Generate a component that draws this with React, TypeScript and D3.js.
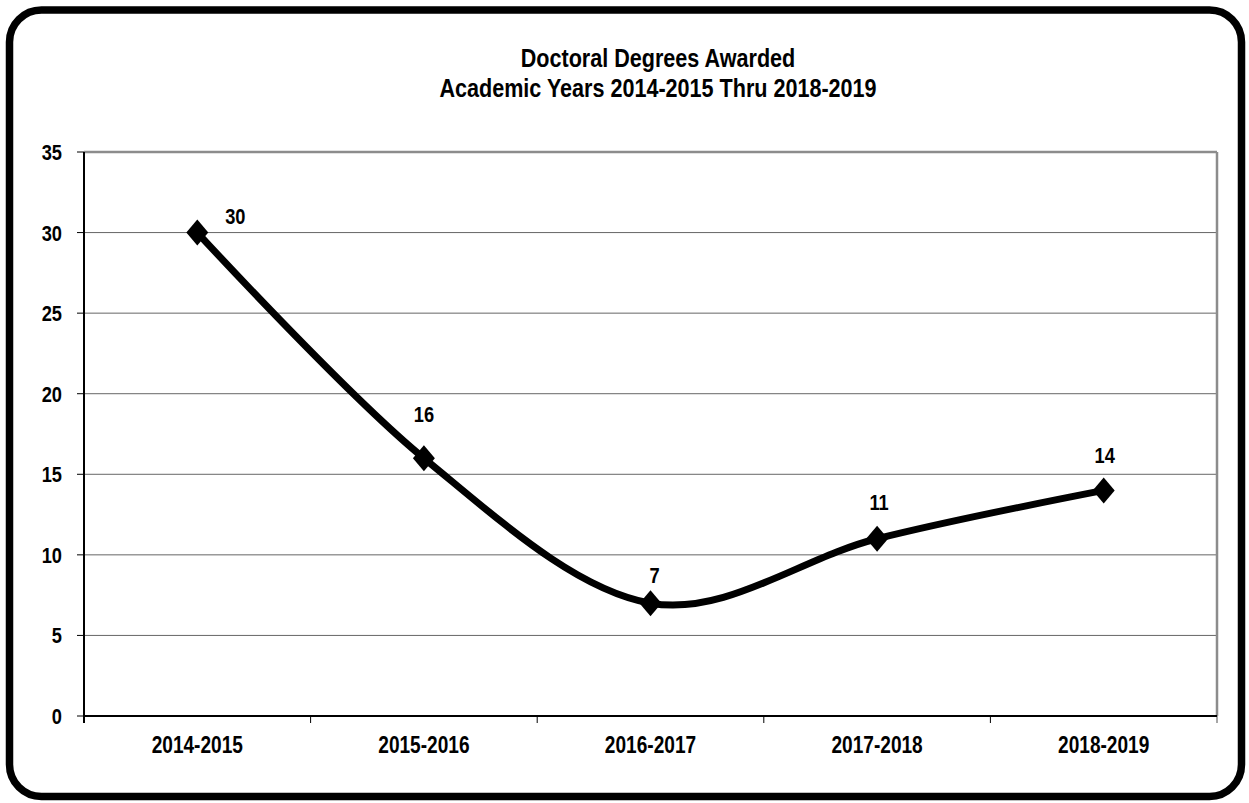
import React from "react";
import * as d3 from "d3";

const categories = ["2014-2015", "2015-2016", "2016-2017", "2017-2018", "2018-2019"];
const values = [30, 16, 7, 11, 14];
const yTicks = [0, 5, 10, 15, 20, 25, 30, 35];
const titleLines = ["Doctoral Degrees Awarded", "Academic Years 2014-2015 Thru 2018-2019"];

const W = 1249;
const H = 803;
const FONT = "'Liberation Sans Narrow', 'Arial Narrow', 'Liberation Sans', Arial, sans-serif";
const SX = 0.83;

function NText(props: { x: number; y: number; size: number; anchor?: string; children: React.ReactNode }) {
  const { x, y, size, anchor = "middle", children } = props;
  return (
    <text
      transform={`translate(${x},${y}) scale(${SX},1)`}
      textAnchor={anchor}
      fontFamily={FONT}
      fontWeight="bold"
      fontSize={size}
      fill="#000"
    >
      {children}
    </text>
  );
}

export default function App() {
  const left = 84, right = 1217, top = 152, bottom = 716;
  const x = d3.scaleBand<string>().domain(categories).range([left, right]);
  const y = d3.scaleLinear().domain([0, 35]).range([bottom, top]);
  const cx = (c: string) => (x(c) as number) + x.bandwidth() / 2;
  const pts: [number, number][] = categories.map((c, i) => [cx(c), y(values[i])]);
  const line = d3.line().curve(d3.curveCatmullRom.alpha(0))(pts) as string;
  const diamond = (px: number, py: number) => {
    const w = 11, h = 13;
    return `M${px},${py - h}L${px + w},${py}L${px},${py + h}L${px - w},${py}Z`;
  };
  const labelOffsets: [number, number][] = [
    [38, -9],
    [0, -36],
    [4, -20],
    [2, -29],
    [1, -27],
  ];
  return (
    <svg width={W} height={H} style={{ position: "absolute", left: 0, top: 0 }}>
      <rect x={0} y={0} width={W} height={H} fill="#fff" />
      <rect x={9.5} y={10} width={1232} height={786.5} rx={32} ry={32} fill="#fff" stroke="#000" strokeWidth={7.5} />
      {titleLines.map((t, i) => (
        <NText key={i} x={658} y={67 + i * 30} size={26}>
          {t}
        </NText>
      ))}
      {yTicks.filter((v) => v > 0).map((v) => (
        <line key={v} x1={left} x2={right} y1={y(v)} y2={y(v)} stroke={v === 35 ? "#8c8c8c" : "#666"} strokeWidth={v === 35 ? 2.5 : 1} />
      ))}
      <line x1={right} x2={right} y1={top} y2={bottom} stroke="#8c8c8c" strokeWidth={2.5} />
      {yTicks.map((v) => (
        <g key={v}>
          <line x1={left - 7} x2={left} y1={y(v)} y2={y(v)} stroke="#000" strokeWidth={1} />
          <NText x={62} y={y(v) + 8} size={22} anchor="end">
            {v}
          </NText>
        </g>
      ))}
      {categories.map((c, i) => (
        <line key={"t" + i} x1={x(c) as number} x2={x(c) as number} y1={bottom} y2={bottom + 7} stroke="#000" strokeWidth={1} />
      ))}
      <line x1={right} x2={right} y1={bottom} y2={bottom + 7} stroke="#888" strokeWidth={1.5} />
      <line x1={left} x2={left} y1={top} y2={bottom + 7} stroke="#000" strokeWidth={2} />
      <line x1={left} x2={right} y1={bottom} y2={bottom} stroke="#000" strokeWidth={2} />
      {categories.map((c) => (
        <NText key={c} x={cx(c)} y={753} size={23}>
          {c}
        </NText>
      ))}
      <path d={line} fill="none" stroke="#000" strokeWidth={7} strokeLinejoin="round" />
      {pts.map(([px, py], i) => (
        <path key={i} d={diamond(px, py)} fill="#000" />
      ))}
      {pts.map(([px, py], i) => (
        <NText key={"l" + i} x={px + labelOffsets[i][0]} y={py + labelOffsets[i][1]} size={22}>
          {values[i]}
        </NText>
      ))}
    </svg>
  );
}
